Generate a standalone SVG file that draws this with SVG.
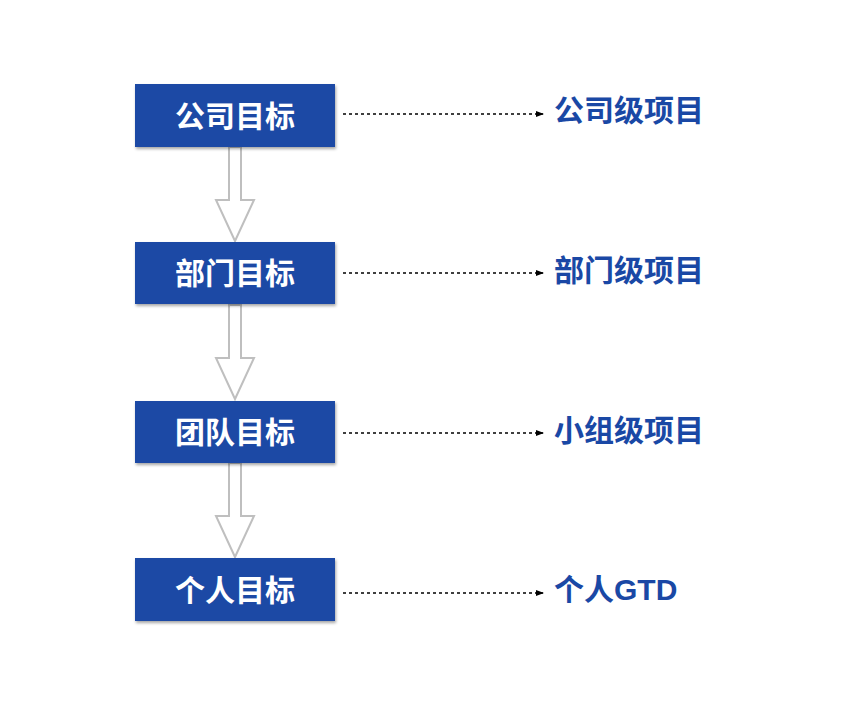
<svg xmlns="http://www.w3.org/2000/svg" width="841" height="708" viewBox="0 0 841 708">
<defs>
<style>
.box{fill:#1a48a5;}
.bt{fill:#fff;font-family:"Liberation Sans","Noto Sans CJK SC",sans-serif;font-weight:bold;font-size:30px;text-anchor:middle;dominant-baseline:central;}
.rt{fill:#1a48a5;font-family:"Liberation Sans","Noto Sans CJK SC",sans-serif;font-weight:bold;font-size:30px;dominant-baseline:central;}
.dash{stroke:#000;stroke-width:1.5;stroke-dasharray:3 3;fill:none;marker-end:url(#ah);}
.blk{fill:#fff;stroke:#bfbfbf;stroke-width:2;}
</style>
<marker id="ah" markerWidth="8" markerHeight="6" refX="7" refY="3" orient="auto" markerUnits="userSpaceOnUse">
<path d="M0,0 L8,3 L0,6 Z" fill="#000"/>
</marker>
<filter id="sh" x="-5%" y="-10%" width="115%" height="130%">
<feDropShadow dx="1" dy="2" stdDeviation="1.5" flood-color="#000" flood-opacity="0.35"/>
</filter>
</defs>
<g id="connectors">
<path class="blk" d="M229,147 L241,147 L241,200 L254,200 L235,241 L216,200 L229,200 Z"/>
<path class="blk" d="M229,305 L241,305 L241,358 L254,358 L235,399 L216,358 L229,358 Z"/>
<path class="blk" d="M229,463 L241,463 L241,516 L254,516 L235,557 L216,516 L229,516 Z"/>
<line class="dash" x1="343" y1="114" x2="543" y2="114"/>
<line class="dash" x1="343" y1="273" x2="543" y2="273"/>
<line class="dash" x1="343" y1="433" x2="543" y2="433"/>
<line class="dash" x1="343" y1="593" x2="543" y2="593"/>
</g>
<g id="n1"><rect class="box" x="135" y="84" width="200" height="63" filter="url(#sh)"/><text class="bt" x="235" y="116">公司目标</text></g>
<g id="n2"><rect class="box" x="135" y="242" width="200" height="62" filter="url(#sh)"/><text class="bt" x="235" y="273">部门目标</text></g>
<g id="n3"><rect class="box" x="135" y="401" width="200" height="62" filter="url(#sh)"/><text class="bt" x="235" y="432">团队目标</text></g>
<g id="n4"><rect class="box" x="135" y="558" width="200" height="63" filter="url(#sh)"/><text class="bt" x="235" y="590">个人目标</text></g>
<g id="r1"><text class="rt" x="554" y="110">公司级项目</text></g>
<g id="r2"><text class="rt" x="554" y="270">部门级项目</text></g>
<g id="r3"><text class="rt" x="554" y="430">小组级项目</text></g>
<g id="r4"><text class="rt" x="554" y="589">个人GTD</text></g>
</svg>
